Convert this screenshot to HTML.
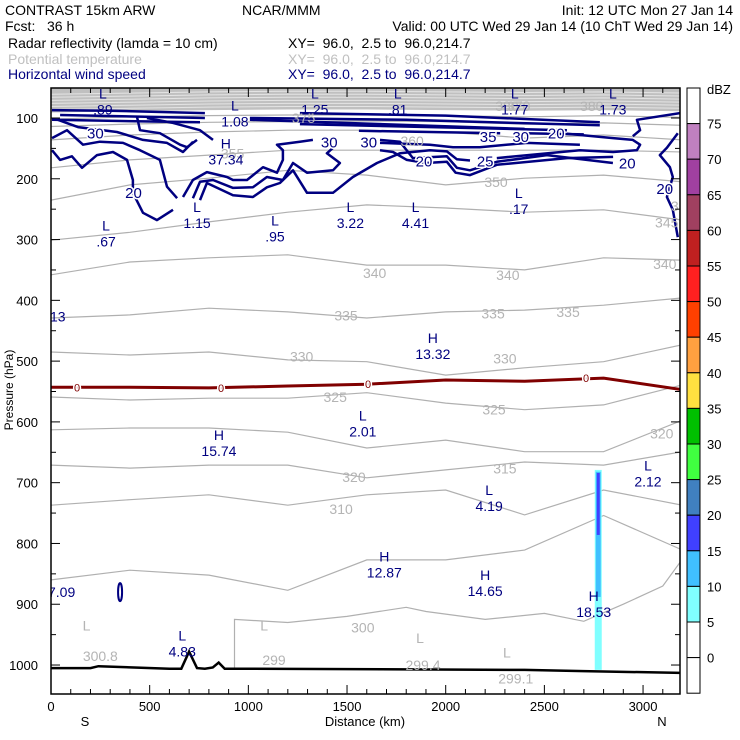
<!DOCTYPE html>
<html><head><meta charset="utf-8"><style>
html,body{margin:0;padding:0;background:#fff;}
svg{display:block;font-family:"Liberation Sans",sans-serif;}
</style></head><body>
<svg id="chart" width="740" height="740" viewBox="0 0 740 740" xmlns="http://www.w3.org/2000/svg">
<g font-size="14">
<text x="5" y="15">CONTRAST 15km ARW</text>
<text x="242" y="15">NCAR/MMM</text>
<text x="733" y="15" text-anchor="end">Init: 12 UTC Mon 27 Jan 14</text>
<text x="5" y="31" xml:space="preserve">Fcst:   36 h</text>
<text x="733" y="31" text-anchor="end">Valid: 00 UTC Wed 29 Jan 14 (10 ChT Wed 29 Jan 14)</text>
<text x="8" y="48">Radar reflectivity (lamda = 10 cm)</text>
<text x="288" y="48" xml:space="preserve">XY=  96.0,  2.5 to  96.0,214.7</text>
<text x="8" y="64" fill="#c0c0c0">Potential temperature</text>
<text x="288" y="64" fill="#c0c0c0" xml:space="preserve">XY=  96.0,  2.5 to  96.0,214.7</text>
<text x="8" y="79" fill="#000080">Horizontal wind speed</text>
<text x="288" y="79" fill="#000080" xml:space="preserve">XY=  96.0,  2.5 to  96.0,214.7</text>
</g>
<g id="plot"></g>
<g id="cbar"></g>
</svg>
<script>
const kmTicks=[0,500,1000,1500,2000,2500,3000];
const pTicks=[100,200,300,400,500,600,700,800,900,1000];
const xKm=[0,400,800,1200,1600,2000,2400,2800,3200];
const thetaLevels=[305,310,315,320,325,330,335,340,345,350,355,360,365,370,375];
const theta305=[860,844,852,877,827,827,811,754,811];
const theta310=[737,728,720,737,720,712,753,712,737];
const theta315=[671,676,671,671,692,679,666,671,649];
const theta320=[613,610,610,617,643,630,649,649,597];
const theta325=[559,564,561,561,552,569,580,572,539];
const theta330=[485,490,485,498,501,523,511,501,473];
const theta335=[429,424,413,419,429,419,416,408,396];
const theta340=[358,337,330,325,342,342,350,330,334];
const theta345=[301,288,271,255,243,248,255,251,268];
const theta350=[235,210,199,186,194,210,199,194,205];
const theta355=[182,169,161,153,153,153,153,153,156];
const theta360=[136,128,123,120,120,123,133,128,136];
const theta365=[114,110,107,106,105,106,110,108,112];
const theta370=[102,98,96,95,95,96,98,96,99];
const theta375=[91,89,87,86,86,87,88,87,89];
const theta300=[[930,1005],[930,925],[1200,930],[1500,920],[1800,905],[1900,912],[2200,925],[2500,915],[2700,928],[2900,900],[3100,870],[3190,830]];
const freezeP=[543,543,544,541,538,531,533,528,547];
const groundKm=[0,200,240,600,660,700,740,780,820,850,880,1000,2400,2700,3190];
const groundP=[1005,1005,1002,1006,1006,978,1005,1006,1004,996,1006,1006,1008,1010,1013];
const dbzLevels=[0,5,10,15,20,25,30,35,40,45,50,55,60,65,70,75];
const dbzColors=["#ffffff","#80ffff","#40c0ff","#4040ff","#4080c0","#40ff40","#00c000","#ffe040","#ffa040","#ff4000","#ff2020","#c02020","#a04060","#a040a0","#c080c0","#ffffff"];
const precipKm=2773;
const precipTop=[679,682,684];
const precipBot=[1008,888,786];
const windLines=[
[[5,153],[46,169],[106,163],[157,182],[233,161],[314,156],[385,169],[415,202],[415,223],[466,256],[537,268],[618,251]],
[[5,133],[81,120],[162,144],[248,139],[365,141],[451,153],[552,169],[588,213],[639,232]],
[[35,103],[137,115],[334,123],[466,136],[588,141],[669,156],[720,139]],
[[436,98],[451,120],[552,125],[654,144],[689,148],[740,136]],
[[486,100],[618,108],[755,120],[821,136]],
[[669,230],[719,202],[790,189],[892,197],[922,202],[993,202],[1074,181],[1145,190],[1175,169],[1175,153],[1145,144],[1261,139],[1327,136]],
[[719,232],[755,205],[821,202],[922,215],[1023,214],[1094,197],[1175,202],[1226,174],[1297,190],[1429,186],[1464,174],[1398,158],[1429,149]],
[[755,235],[790,207],[922,227],[1023,230],[1094,214],[1160,207],[1226,186],[1297,223],[1429,223],[1530,197],[1652,174],[1768,158],[1920,153],[2006,155],[2057,168],[2123,170]],
[[1667,136],[1768,139],[1834,166],[2006,163],[2057,182],[2123,186],[2259,172],[2513,161],[2847,174]],
[[1667,153],[1733,156],[1803,169],[1900,174],[2006,172],[2050,190],[2123,194],[2259,177],[2614,166],[2848,164]],
[[2259,166],[2680,153],[2848,156],[2969,153],[2985,144],[2948,136],[2848,133],[2614,126]],
[[1667,141],[1920,144],[2037,148],[2173,148],[2411,141],[2680,144]],
[[3187,92],[2969,103],[2985,120],[2948,130]],
[[3176,125],[3121,149],[3085,161],[3136,181],[3151,197],[3121,230],[3151,251],[3176,296]],
[[5,87],[300,88],[780,92]],[[46,95],[780,100]],[[5,103],[755,107]],
[[1261,92],[2000,96],[2781,107]],[[1008,100],[1800,103],[2781,112]],[[1261,110],[2614,120]],
[[1560,121],[2276,125]],[[1008,103],[2400,118]],[[2400,125],[2700,127]]
];
const windLabels=[["30",225,124],["20",418,222],["30",1410,139],["30",1610,139],["35",2215,130],["30",2380,130],["20",2560,124],["20",1890,170],["25",2200,170],["20",2920,173],["20",3110,215]];
const extremaType=["L","L","L","L","L","L","H","L","L","L","L","L","L","H","L","H","L","L","H","H","H","L"];
const extremaVal=[".89","1.08","1.25",".81","1.77","1.73","37.34","1.15",".95","3.22","4.41",".17",".67","13.32","2.01","15.74","2.12","4.19","12.87","14.65","18.53","4.83"];
const extremaKm=[263,932,1337,1757,2350,2847,886,740,1135,1517,1847,2370,279,1935,1580,851,3025,2220,1689,2200,2750,665];
const extremaP=[68,88,68,68,68,68,150,255,277,255,255,232,285,470,598,630,680,720,830,860,895,960];
const thetaLabelText=["300.8","299","299.4","299.1","300","310","315","320","320","325","325","330","330","335","335","335","340","340","340","345","350","350","355","360","375","380","370","380"];
const thetaLabelKm=[250,1130,1885,2355,1580,1470,2300,1535,3095,1440,2245,1270,2300,1495,2240,2620,1640,2315,3110,3120,3200,2255,920,1830,1280,2310,2370,2740];
const thetaLabelP=[985,992,1000,1022,938,743,677,691,619,559,580,492,496,425,422,419,355,358,340,272,245,205,158,138,100,80,80,80];
const grayMarkKm=[180,1080,1870,2310];
const grayMarkP=[960,960,980,1004];

const NS="http://www.w3.org/2000/svg";
const X=k=>51+k*0.19735, Y=p=>118+(p-100)*0.6078;
const plot=document.getElementById('plot');
function mk(tag,attrs,parent){const e=document.createElementNS(NS,tag);for(const k in attrs)e.setAttribute(k,attrs[k]);(parent||plot).appendChild(e);return e;}
const defs=mk('defs',{});const cp=mk('clipPath',{id:'clip'},defs);mk('rect',{x:51,y:88,width:629,height:606},cp);
const g=mk('g',{'clip-path':'url(#clip)'});


function pathXY(xs,ps){return xs.map((k,i)=>(i?'L':'M')+X(k).toFixed(1)+','+Y(ps[i]).toFixed(1)).join('');}
function pathPairs(pts){return pts.map((q,i)=>(i?'L':'M')+X(q[0]).toFixed(1)+','+Y(q[1]).toFixed(1)).join('');}
const topFill='M'+X(0)+','+Y(40)+'L'+X(3200)+','+Y(40)+pathXY(xKm.slice().reverse(),theta375.slice().reverse()).replace('M','L')+'Z';
const tf=mk('path',{d:topFill,fill:'#c0c0c0'},g);


const thetaSeries=[theta305,theta310,theta315,theta320,theta325,theta330,theta335,theta340,theta345,theta350,theta355,theta360,theta365,theta370];
thetaSeries.forEach((s,i)=>{const e=mk('path',{d:pathXY(xKm,s),fill:'none',stroke:'#b0b0b0','stroke-width':1.2},g);

});
const t300=mk('path',{d:pathPairs(theta300),fill:'none',stroke:'#b0b0b0','stroke-width':1.2},g);


[5,10,15,20,25,30].forEach(dp=>{const e=mk('path',{d:pathXY(xKm,theta375.map(p=>p-dp)),fill:'none',stroke:'#e4e4e4','stroke-width':1},g);

});
[0,1,2].forEach(i=>{const w=[7,5,3][i];const r=mk('rect',{x:X(precipKm)-w/2,y:Y(precipTop[i]),width:w,height:Math.max(0,Y(precipBot[i])-Y(precipTop[i])),fill:dbzColors[i+1]},g);

});
const fz=mk('path',{d:pathXY(xKm,freezeP),fill:'none',stroke:'#800000','stroke-width':3},g);


[77,221,368,586].forEach(px=>{const t=mk('text',{x:px,y:Y(freezeP[Math.round((px-51)/0.19735/400)])+4,'font-size':11,fill:'#800000','text-anchor':'middle',stroke:'#fff','stroke-width':3,'paint-order':'stroke'},g);t.textContent='0';

});
windLines.forEach(l=>{const e=mk('path',{d:pathPairs(l),fill:'none',stroke:'#000080','stroke-width':2.5,'stroke-linejoin':'round'},g);

});
const el=mk('ellipse',{cx:X(350),cy:Y(880),rx:2,ry:9,fill:'none',stroke:'#000080','stroke-width':2},g);


windLabels.forEach(w=>{const t=mk('text',{x:X(w[1]),y:Y(w[2])+6,'font-size':15,fill:'#000080','text-anchor':'middle',stroke:'#fff','stroke-width':3,'paint-order':'stroke'},g);t.textContent=w[0];

});
const gr=mk('path',{d:pathXY(groundKm,groundP),fill:'none',stroke:'#000','stroke-width':2.5},g);


thetaLabelText.forEach((s,i)=>{const t=mk('text',{x:X(thetaLabelKm[i]),y:Y(thetaLabelP[i])+5,'font-size':14,fill:'#b4b4b4','text-anchor':'middle'},g);t.textContent=s;

});
grayMarkKm.forEach((k,i)=>{const t=mk('text',{x:X(k),y:Y(grayMarkP[i])-10,'font-size':14,fill:'#b4b4b4','text-anchor':'middle'},g);t.textContent='L';

});
extremaType.forEach((s,i)=>{const x=X(extremaKm[i]),y=Y(extremaP[i]);
const a=mk('text',{x:x,y:y,'font-size':14,fill:'#000080','text-anchor':'middle'},g);a.textContent=s;


const b=mk('text',{x:x,y:y+16,'font-size':14,fill:'#000080','text-anchor':'middle'},g);b.textContent=extremaVal[i];

});
const z13=mk('text',{x:50,y:Y(435),'font-size':14,fill:'#000080'});z13.textContent='13';


const z=mk('text',{x:48,y:Y(888),'font-size':14,fill:'#000080'});z.textContent='7.09';


const cover=mk('rect',{x:40,y:Y(888)-13,width:11,height:16,fill:'#fff'});


const fr=mk('rect',{x:51,y:88,width:629,height:606,fill:'none',stroke:'#000','stroke-width':1.5});


for(let k=0;k<=3100;k+=100){const major=k%500===0;const L=major?9:5;
const a=mk('line',{x1:X(k),x2:X(k),y1:694,y2:694-L,stroke:'#000'});
const b=mk('line',{x1:X(k),x2:X(k),y1:88,y2:88+L,stroke:'#000'});}
kmTicks.forEach(k=>{const t=mk('text',{x:X(k),y:711,'font-size':13,'text-anchor':'middle'});t.textContent=k;

});
for(let p=100;p<=1000;p+=50){const L=p%100===0?9:5;
const a=mk('line',{x1:51,x2:51+L,y1:Y(p),y2:Y(p),stroke:'#000'});
const b=mk('line',{x1:680,x2:680-L,y1:Y(p),y2:Y(p),stroke:'#000'});}
pTicks.forEach(p=>{const t=mk('text',{x:38,y:Y(p)+5,'font-size':13,'text-anchor':'end'});t.textContent=p;

});
const xt=mk('text',{x:365,y:726,'font-size':13,'text-anchor':'middle'});xt.textContent='Distance (km)';

const s=mk('text',{x:85,y:726,'font-size':13,'text-anchor':'middle'});s.textContent='S';

const n=mk('text',{x:662,y:726,'font-size':13,'text-anchor':'middle'});n.textContent='N';

const yt=mk('text',{x:0,y:0,'font-size':12,'text-anchor':'middle',transform:'translate(13,390) rotate(-90)'});yt.textContent='Pressure (hPa)';

const cb=document.getElementById('cbar');const bh=35.6;
for(let i=0;i<17;i++){const ci=16-i;const col=ci===0?'#ffffff':dbzColors[ci-1];
const r=mk('rect',{x:687,y:88+i*bh,width:13,height:bh,fill:i===0?'#ffffff':col,stroke:'#000','stroke-width':1},cb);

}
dbzLevels.slice().reverse().forEach((v,i)=>{const t=mk('text',{x:707,y:88+(i+1)*bh+5,'font-size':13},cb);t.textContent=v;

});
const u=mk('text',{x:707,y:94,'font-size':13},cb);u.textContent='dBZ';

</script>
</body></html>
